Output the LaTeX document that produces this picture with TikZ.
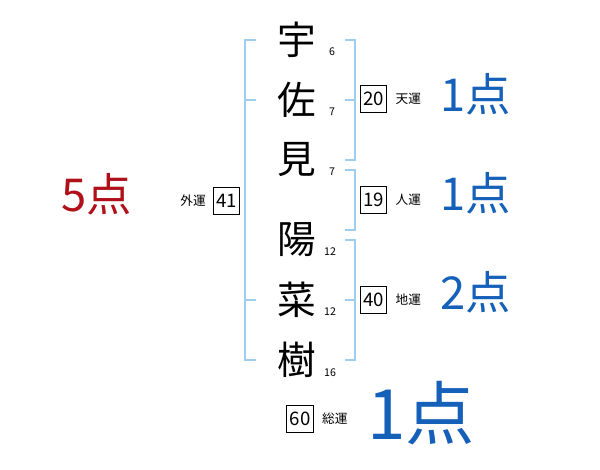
\documentclass[tikz,border=0pt]{standalone}
\usepackage{fontspec}
\setmainfont{Noto Sans CJK JP}
\definecolor{brk}{HTML}{9FCDEE}
\definecolor{scoreblue}{HTML}{1560B8}
\definecolor{scorered}{HTML}{B0101A}
\begin{document}
\begin{tikzpicture}[x=0.75pt,y=-0.75pt,
  kanji/.style={inner sep=0pt,font=\fontsize{29}{29}\selectfont},
  strokes/.style={inner sep=0pt,font=\fontsize{8}{8}\selectfont},
  numbox/.style={draw,line width=0.8pt,minimum width=20pt,minimum height=20pt,inner sep=0pt,font=\fontsize{14}{14}\selectfont},
  unsei/.style={inner sep=0pt,font=\fontsize{9.5}{9.5}\selectfont},
  score/.style={inner sep=0pt,text=scoreblue,font=\fontsize{34}{34}\selectfont},
  bracket/.style={draw=brk,line width=1.6pt}]
\useasboundingbox (0,0) rectangle (600,470);
% kanji
\node[kanji] (k1) at (297,40) {宇};
\node[kanji] (k2) at (297,100) {佐};
\node[kanji] (k3) at (297,160) {見};
\node[kanji] (k4) at (297,240) {陽};
\node[kanji] (k5) at (297,300) {菜};
\node[kanji] (k6) at (297,360) {樹};
% stroke counts
\node[strokes] (s1) at (332,52) {6};
\node[strokes] (s2) at (332,112) {7};
\node[strokes] (s3) at (332,172) {7};
\node[strokes] (s4) at (330,252) {12};
\node[strokes] (s5) at (330,312) {12};
\node[strokes] (s6) at (330,373) {16};
% brackets
\coordinate (lt) at (245,40);
\coordinate (lb) at (245,360);
\draw[bracket] (256,40) -- (lt) -- (lb) -- (256,360);
\draw[bracket] (245,100) -- (256,100);
\draw[bracket] (245,300) -- (256,300);
\draw[bracket] (345,40) -- (355,40) -- (355,160) -- (345,160);
\draw[bracket] (345,100) -- (355,100);
\draw[bracket] (345,170) -- (355,170) -- (355,230) -- (345,230);
\draw[bracket] (345,240) -- (355,240) -- (355,360) -- (345,360);
\draw[bracket] (345,300) -- (355,300);
% boxes
\node[numbox] (b20) at (373.5,99) {20};
\node[unsei,anchor=west] (u1) at ([xshift=6pt]b20.east) {天運};
\node[numbox] (b19) at (373.5,200) {19};
\node[unsei,anchor=west] (u2) at ([xshift=6pt]b19.east) {人運};
\node[numbox] (b40) at (373.5,300) {40};
\node[unsei,anchor=west] (u3) at ([xshift=6pt]b40.east) {地運};
\node[numbox] (b41) at (226.5,201) {41};
\node[unsei,anchor=east] (u4) at ([xshift=-5pt]b41.west) {外運};
\node[numbox] (b60) at (300,419) {60};
\node[unsei,anchor=west] (u5) at ([xshift=6pt]b60.east) {総運};
% scores
\node[score] (p1) at (476,94) {1点};
\node[score] (p2) at (476,193) {1点};
\node[score] (p3) at (476,292) {2点};
\node[score,font=\fontsize{52}{52}\selectfont] (p4) at (421,413) {1点};
\node[score,text=scorered] (p5) at (97,194) {5点};
\end{tikzpicture}
\end{document}
